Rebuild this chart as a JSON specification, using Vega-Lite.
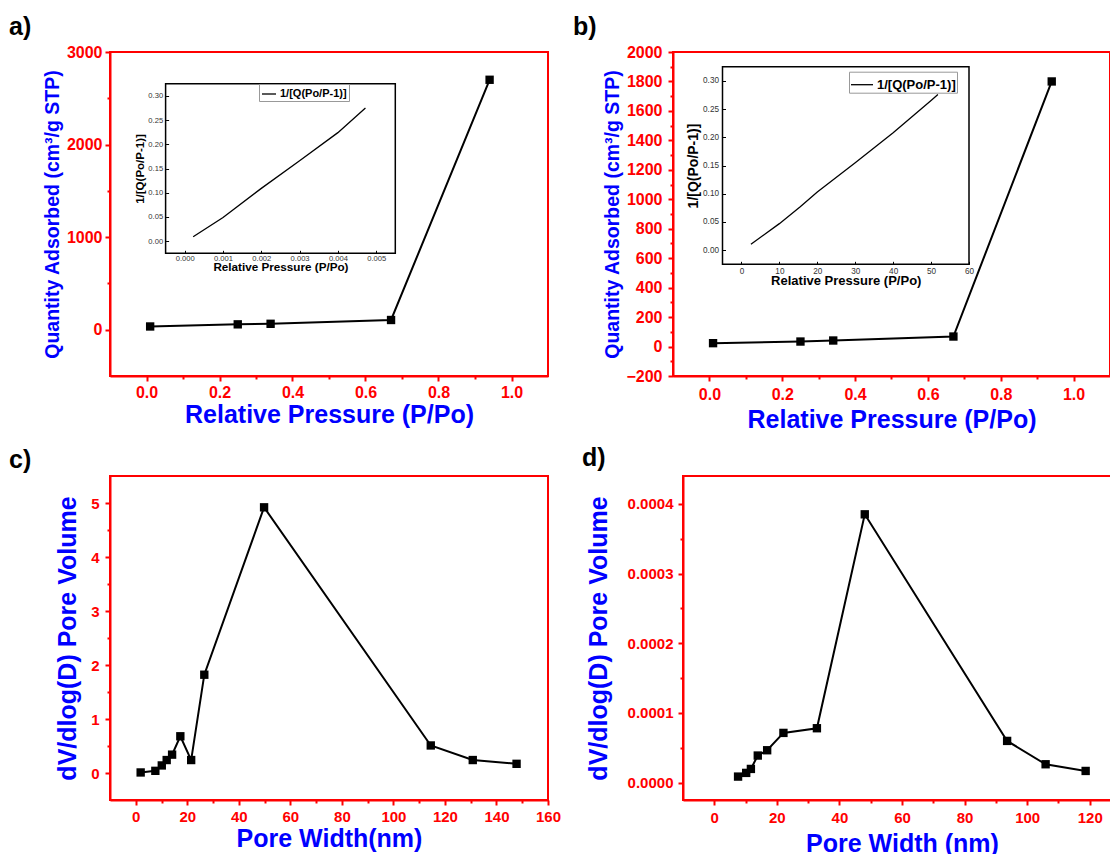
{
  "$schema": "https://vega.github.io/schema/vega-lite/v6.json",
  "background": "white",
  "padding": {"left": 8, "top": 14, "right": 0, "bottom": 0},
  "bounds": "full",
  "spacing": 12,
  "config": {
    "view": {"stroke": "#ff0000", "strokeWidth": 2},
    "axis": {"grid": false, "domainColor": "#ff0000", "domainWidth": 2, "tickColor": "#ff0000", "tickWidth": 2, "labelColor": "#ff0000", "labelFont": "Liberation Sans", "labelFontWeight": "bold", "titleColor": "#0000ff", "titleFont": "Liberation Sans", "titleFontWeight": "bold", "labelFlush": false, "labelOverlap": false, "labelBound": false},
    "title": {"font": "Liberation Sans", "fontWeight": "bold", "fontSize": 25, "color": "black", "anchor": "start", "frame": "group"}
  },
  "vconcat": [
    {
      "bounds": "flush",
      "spacing": 125,
      "resolve": {"scale": {"color": "independent"}},
      "hconcat": [
        {
          "title": {"text": "a)", "dx": -101, "offset": 4},
          "width": 438, "height": 324,
          "resolve": {"scale": {"x": "independent", "y": "independent"}},
          "layer": [
            {
              "data": {"values": [{"p": 0.01, "q": 35}, {"p": 0.25, "q": 58}, {"p": 0.34, "q": 64}, {"p": 0.67, "q": 105}, {"p": 0.94, "q": 2700}]},
              "mark": {"type": "line", "color": "black", "strokeWidth": 2},
              "encoding": {
                "x": {"field": "p", "type": "quantitative", "scale": {"domain": [-0.1, 1.1], "nice": false, "zero": false},
                  "axis": {"orient": "bottom", "values": [0, 0.2, 0.4, 0.6, 0.8, 1.0], "format": ".1f", "title": "Relative Pressure (P/Po)", "tickSize": 5, "labelPadding": 3, "labelFontSize": 16, "titleFontSize": 25, "titlePadding": 2}},
                "y": {"field": "q", "type": "quantitative", "scale": {"domain": [-500, 3000], "nice": false, "zero": false},
                  "axis": {"orient": "left", "values": [0, 1000, 2000, 3000], "format": "d", "title": "Quantity Adsorbed (cm³/g STP)", "tickSize": 5, "labelPadding": 3, "labelFontSize": 16, "titleFontSize": 19.5, "titlePadding": 4}}
              }
            },
            {
              "data": {"values": [{"p": 0.01, "q": 35}, {"p": 0.25, "q": 58}, {"p": 0.34, "q": 64}, {"p": 0.67, "q": 105}, {"p": 0.94, "q": 2700}]},
              "mark": {"type": "point", "shape": "square", "filled": true, "size": 70, "color": "black", "opacity": 1},
              "encoding": {
                "x": {"field": "p", "type": "quantitative", "scale": {"domain": [-0.1, 1.1], "nice": false, "zero": false},
                  "axis": {"orient": "bottom", "values": [0.1, 0.3, 0.5, 0.7, 0.9], "labels": false, "domain": false, "title": null, "tickSize": 3}},
                "y": {"field": "q", "type": "quantitative", "scale": {"domain": [-500, 3000], "nice": false, "zero": false},
                  "axis": {"orient": "left", "values": [500, 1500, 2500], "labels": false, "domain": false, "title": null, "tickSize": 3}}
              }
            },
            {
              "data": {"values": [{}]},
              "mark": {"type": "rect", "filled": false, "color": "black", "strokeWidth": 1.5},
              "encoding": {
                "x": {"datum": -0.0005, "type": "quantitative", "scale": {"domain": [-0.0005, 0.0055], "range": [55.6, 285.3], "nice": false, "zero": false}, "axis": null},
                "x2": {"datum": 0.0055},
                "y": {"datum": -0.025, "type": "quantitative", "scale": {"domain": [-0.025, 0.325], "range": [201.3, 31.7], "nice": false, "zero": false}, "axis": null},
                "y2": {"datum": 0.325}
              }
            },
            {
              "data": {"values": [
                {"r": 0.00022, "v": 0.009, "s": "1/[Q(Po/P-1)]"},
                {"r": 0.001, "v": 0.049, "s": "1/[Q(Po/P-1)]"},
                {"r": 0.002, "v": 0.109, "s": "1/[Q(Po/P-1)]"},
                {"r": 0.003, "v": 0.166, "s": "1/[Q(Po/P-1)]"},
                {"r": 0.004, "v": 0.224, "s": "1/[Q(Po/P-1)]"},
                {"r": 0.00472, "v": 0.275, "s": "1/[Q(Po/P-1)]"}
              ]},
              "mark": {"type": "line", "strokeWidth": 1.3},
              "encoding": {
                "x": {"field": "r", "type": "quantitative", "scale": {"domain": [-0.0005, 0.0055], "range": [55.6, 285.3], "nice": false, "zero": false},
                  "axis": {"orient": "bottom", "offset": -122.7, "values": [0, 0.001, 0.002, 0.003, 0.004, 0.005], "format": ".3f", "title": "Relative Pressure (P/Po)", "domain": false, "tickSize": -3, "tickColor": "black", "tickWidth": 1, "labelColor": "#333333", "labelFontWeight": "normal", "labelFontSize": 7.6, "labelPadding": 4, "titleColor": "black", "titleFontSize": 11.7, "titlePadding": 0}},
                "y": {"field": "v", "type": "quantitative", "scale": {"domain": [-0.025, 0.325], "range": [201.3, 31.7], "nice": false, "zero": false},
                  "axis": {"orient": "left", "offset": -55.6, "values": [0, 0.05, 0.1, 0.15, 0.2, 0.25, 0.3], "format": ".2f", "title": "1/[Q(Po/P-1)]", "domain": false, "tickSize": -3, "tickColor": "black", "tickWidth": 1, "labelColor": "#333333", "labelFontWeight": "normal", "labelFontSize": 7.6, "labelPadding": 6, "titleColor": "black", "titleFontSize": 11.5, "titlePadding": 2}},
                "color": {"field": "s", "type": "nominal", "scale": {"range": ["black"]},
                  "legend": {"orient": "none", "legendX": 149, "legendY": 32, "title": null, "symbolType": "stroke", "symbolSize": 196, "symbolStrokeWidth": 1.3, "labelFont": "Liberation Sans", "labelFontWeight": "bold", "labelFontSize": 11, "labelColor": "black", "strokeColor": "#999999", "padding": 2, "labelOffset": 3}}
              }
            }
          ]
        },
        {
          "title": {"text": "b)", "dx": -100, "offset": 4},
          "width": 437, "height": 324,
          "resolve": {"scale": {"x": "independent", "y": "independent"}},
          "layer": [
            {
              "data": {"values": [{"p": 0.01, "q": 23}, {"p": 0.25, "q": 34}, {"p": 0.34, "q": 41}, {"p": 0.67, "q": 68}, {"p": 0.94, "q": 1800}]},
              "mark": {"type": "line", "color": "black", "strokeWidth": 2},
              "encoding": {
                "x": {"field": "p", "type": "quantitative", "scale": {"domain": [-0.1, 1.1], "nice": false, "zero": false},
                  "axis": {"orient": "bottom", "values": [0, 0.2, 0.4, 0.6, 0.8, 1.0], "format": ".1f", "title": "Relative Pressure (P/Po)", "tickSize": 5, "labelPadding": 5, "labelFontSize": 16, "titleFontSize": 25, "titlePadding": 5}},
                "y": {"field": "q", "type": "quantitative", "scale": {"domain": [-200, 2000], "nice": false, "zero": false},
                  "axis": {"orient": "left", "values": [-200, 0, 200, 400, 600, 800, 1000, 1200, 1400, 1600, 1800, 2000], "format": "d", "title": "Quantity Adsorbed (cm³/g STP)", "tickSize": 5, "labelPadding": 6, "labelFontSize": 16, "titleFontSize": 19.5, "titlePadding": 3}}
              }
            },
            {
              "data": {"values": [{"p": 0.01, "q": 23}, {"p": 0.25, "q": 34}, {"p": 0.34, "q": 41}, {"p": 0.67, "q": 68}, {"p": 0.94, "q": 1800}]},
              "mark": {"type": "point", "shape": "square", "filled": true, "size": 70, "color": "black", "opacity": 1},
              "encoding": {
                "x": {"field": "p", "type": "quantitative", "scale": {"domain": [-0.1, 1.1], "nice": false, "zero": false},
                  "axis": {"orient": "bottom", "values": [0.1, 0.3, 0.5, 0.7, 0.9], "labels": false, "domain": false, "title": null, "tickSize": 3}},
                "y": {"field": "q", "type": "quantitative", "scale": {"domain": [-200, 2000], "nice": false, "zero": false},
                  "axis": {"orient": "left", "values": [-100, 100, 300, 500, 700, 900, 1100, 1300, 1500, 1700, 1900], "labels": false, "domain": false, "title": null, "tickSize": 3}}
              }
            },
            {
              "data": {"values": [{}]},
              "mark": {"type": "rect", "filled": false, "color": "black", "strokeWidth": 1.5},
              "encoding": {
                "x": {"datum": -5, "type": "quantitative", "scale": {"domain": [-5, 60], "range": [49.5, 296], "nice": false, "zero": false}, "axis": null},
                "x2": {"datum": 60},
                "y": {"datum": -0.025, "type": "quantitative", "scale": {"domain": [-0.025, 0.325], "range": [212.3, 14.7], "nice": false, "zero": false}, "axis": null},
                "y2": {"datum": 0.325}
              }
            },
            {
              "data": {"values": [
                {"r": 2.5, "v": 0.0106, "s": "1/[Q(Po/P-1)]"},
                {"r": 10, "v": 0.047, "s": "1/[Q(Po/P-1)]"},
                {"r": 15.5, "v": 0.077, "s": "1/[Q(Po/P-1)]"},
                {"r": 20, "v": 0.103, "s": "1/[Q(Po/P-1)]"},
                {"r": 30, "v": 0.155, "s": "1/[Q(Po/P-1)]"},
                {"r": 40, "v": 0.208, "s": "1/[Q(Po/P-1)]"},
                {"r": 50, "v": 0.265, "s": "1/[Q(Po/P-1)]"},
                {"r": 51.8, "v": 0.2756, "s": "1/[Q(Po/P-1)]"}
              ]},
              "mark": {"type": "line", "strokeWidth": 1.3},
              "encoding": {
                "x": {"field": "r", "type": "quantitative", "scale": {"domain": [-5, 60], "range": [49.5, 296], "nice": false, "zero": false},
                  "axis": {"orient": "bottom", "offset": -111.7, "values": [0, 10, 20, 30, 40, 50, 60], "format": "d", "title": "Relative Pressure (P/Po)", "domain": false, "tickSize": -3, "tickColor": "black", "tickWidth": 1, "labelColor": "#333333", "labelFontWeight": "normal", "labelFontSize": 8.2, "labelPadding": 6, "titleColor": "black", "titleFontSize": 13, "titlePadding": 0}},
                "y": {"field": "v", "type": "quantitative", "scale": {"domain": [-0.025, 0.325], "range": [212.3, 14.7], "nice": false, "zero": false},
                  "axis": {"orient": "left", "offset": -49.5, "values": [0, 0.05, 0.1, 0.15, 0.2, 0.25, 0.3], "format": ".2f", "title": "1/[Q(Po/P-1)]", "domain": false, "tickSize": -3, "tickColor": "black", "tickWidth": 1, "labelColor": "#333333", "labelFontWeight": "normal", "labelFontSize": 8.2, "labelPadding": 7, "titleColor": "black", "titleFontSize": 14, "titlePadding": 2}},
                "color": {"field": "s", "type": "nominal", "scale": {"range": ["black"]},
                  "legend": {"orient": "none", "legendX": 176, "legendY": 19.7, "title": null, "symbolType": "stroke", "symbolSize": 484, "symbolStrokeWidth": 1.3, "labelFont": "Liberation Sans", "labelFontWeight": "bold", "labelFontSize": 13, "labelColor": "black", "strokeColor": "#999999", "padding": 1, "labelOffset": 3}}
              }
            }
          ]
        }
      ]
    },
    {
      "bounds": "flush",
      "spacing": 135,
      "hconcat": [
        {
          "title": {"text": "c)", "dx": -101, "offset": 3},
          "width": 438, "height": 324,
          "data": {"values": [
            {"w": 1.9, "v": 0.01}, {"w": 7.6, "v": 0.04}, {"w": 10.1, "v": 0.14}, {"w": 12.0, "v": 0.24},
            {"w": 14.1, "v": 0.34}, {"w": 17.3, "v": 0.68}, {"w": 21.5, "v": 0.24}, {"w": 26.6, "v": 1.82},
            {"w": 49.8, "v": 4.92}, {"w": 114.5, "v": 0.51}, {"w": 130.8, "v": 0.24}, {"w": 147.8, "v": 0.17}
          ]},
          "resolve": {"axis": {"x": "independent", "y": "independent"}},
          "layer": [
            {
              "mark": {"type": "line", "color": "black", "strokeWidth": 2},
              "encoding": {
                "x": {"field": "w", "type": "quantitative", "scale": {"domain": [-10, 160], "nice": false, "zero": false},
                  "axis": {"orient": "bottom", "values": [0, 20, 40, 60, 80, 100, 120, 140, 160], "format": "d", "title": "Pore Width(nm)", "tickSize": 5, "labelPadding": 4, "labelFontSize": 15, "titleFontSize": 25, "titlePadding": 2}},
                "y": {"field": "v", "type": "quantitative", "scale": {"domain": [-0.5, 5.5], "nice": false, "zero": false},
                  "axis": {"orient": "left", "values": [0, 1, 2, 3, 4, 5], "format": "d", "title": "dV/dlog(D) Pore Volume", "tickSize": 5, "labelPadding": 6, "labelFontSize": 15, "titleFontSize": 25, "titlePadding": 10}}
              }
            },
            {
              "mark": {"type": "point", "shape": "square", "filled": true, "size": 70, "color": "black", "opacity": 1},
              "encoding": {
                "x": {"field": "w", "type": "quantitative", "scale": {"domain": [-10, 160], "nice": false, "zero": false},
                  "axis": {"orient": "bottom", "values": [10, 30, 50, 70, 90, 110, 130, 150], "labels": false, "domain": false, "title": null, "tickSize": 3}},
                "y": {"field": "v", "type": "quantitative", "scale": {"domain": [-0.5, 5.5], "nice": false, "zero": false},
                  "axis": {"orient": "left", "values": [0.5, 1.5, 2.5, 3.5, 4.5], "labels": false, "domain": false, "title": null, "tickSize": 3}}
              }
            }
          ]
        },
        {
          "title": {"text": "d)", "dx": -101, "offset": 5},
          "width": 438, "height": 324,
          "data": {"values": [
            {"w": 7.6, "v": 0.0000086}, {"w": 10.2, "v": 0.0000139}, {"w": 11.7, "v": 0.0000196}, {"w": 13.9, "v": 0.0000388},
            {"w": 16.9, "v": 0.0000464}, {"w": 22.1, "v": 0.0000713}, {"w": 32.8, "v": 0.000078}, {"w": 48.1, "v": 0.000385},
            {"w": 93.6, "v": 0.0000598}, {"w": 105.9, "v": 0.0000263}, {"w": 118.7, "v": 0.0000167}
          ]},
          "resolve": {"axis": {"x": "independent", "y": "independent"}},
          "layer": [
            {
              "mark": {"type": "line", "color": "black", "strokeWidth": 2},
              "encoding": {
                "x": {"field": "w", "type": "quantitative", "scale": {"domain": [-10, 130], "nice": false, "zero": false},
                  "axis": {"orient": "bottom", "values": [0, 20, 40, 60, 80, 100, 120], "format": "d", "title": "Pore Width (nm)", "tickSize": 5, "labelPadding": 5, "labelFontSize": 15, "titleFontSize": 25, "titlePadding": 6}},
                "y": {"field": "v", "type": "quantitative", "scale": {"domain": [-0.000025, 0.00044], "nice": false, "zero": false},
                  "axis": {"orient": "left", "values": [0, 0.0001, 0.0002, 0.0003, 0.0004], "format": ".4f", "title": "dV/dlog(D) Pore Volume", "tickSize": 5, "labelPadding": 5, "labelFontSize": 15, "titleFontSize": 25, "titlePadding": 16}}
              }
            },
            {
              "mark": {"type": "point", "shape": "square", "filled": true, "size": 70, "color": "black", "opacity": 1},
              "encoding": {
                "x": {"field": "w", "type": "quantitative", "scale": {"domain": [-10, 130], "nice": false, "zero": false},
                  "axis": {"orient": "bottom", "values": [10, 30, 50, 70, 90, 110], "labels": false, "domain": false, "title": null, "tickSize": 3}},
                "y": {"field": "v", "type": "quantitative", "scale": {"domain": [-0.000025, 0.00044], "nice": false, "zero": false},
                  "axis": {"orient": "left", "values": [0.00005, 0.00015, 0.00025, 0.00035], "labels": false, "domain": false, "title": null, "tickSize": 3}}
              }
            }
          ]
        }
      ]
    }
  ]
}
